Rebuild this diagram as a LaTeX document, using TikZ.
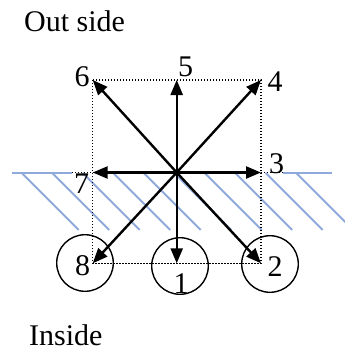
\documentclass[tikz,border=0pt]{standalone}
\usepackage{fontspec}
\setmainfont{Liberation Serif}
\usetikzlibrary{arrows.meta}
\definecolor{surfblue}{RGB}{143,170,218}

\begin{document}
\begin{tikzpicture}[
  x=1pt, y=-1pt,
  font=\fontsize{30}{36}\selectfont,
  >={Triangle[length=15pt,width=12pt]},
  num/.style={anchor=base, inner sep=0pt},
  ring/.style={draw, circle, line width=1.4pt, minimum size=56.6pt, inner sep=0pt},
  dir/.style={->, line width=2.4pt},
  boxline/.style={line width=1.3pt, dash pattern=on 1.3pt off 1.7pt},
  wall/.style={line width=2pt, color=surfblue},
]
% Coordinate system: pixels of the 345x354 sheet, y pointing down
\useasboundingbox (0,0) rectangle (345,354);

% --- Points of the frame ---
\coordinate (c)  at (176.7,172.5);
\coordinate (p1) at (176.7,263.3);
\coordinate (p2) at (261,263.3);
\coordinate (p3) at (261,172.5);
\coordinate (p4) at (261,80);
\coordinate (p5) at (176.7,80);
\coordinate (p6) at (92.7,80);
\coordinate (p7) at (92.7,172.5);
\coordinate (p8) at (92.7,263.3);

% --- Surface and hatching ---
\foreach \k in {0,...,9}
  \draw[wall] (21.7+30.5*\k,173) -- ++(57,57);
\draw[wall] (11.7,172.5) -- (72,172.5);
\draw[wall] (283,172.5) -- (331.7,172.5);

% --- Circles ---
\node[ring] (r8) at (85,263) {};
\node[ring] (r1) at (180,266) {};
\node[ring] (r2) at (270,264) {};

% --- Dotted frame ---
\draw[boxline] (p6) rectangle (p2);
\draw[boxline] (72,172.5) -- (283,172.5);

% --- Directions ---
\foreach \p in {p1,p2,p3,p4,p5,p6,p7,p8}
  \draw[dir] (c) -- (\p);

% --- Numbers ---
\node[num] (n5) at (185.5,76)   {5};
\node[num] (n6) at (82,86.7)    {6};
\node[num] (n4) at (275,91.7)   {4};
\node[num] (n3) at (276.5,173)  {3};
\node[num] (n7) at (81.7,193)   {7};
\node[num] (n8) at (82.5,275)   {8};
\node[num] (n1) at (181,293)    {1};
\node[num] (n2) at (275,276.7)  {2};

% --- Sides ---
\node[anchor=base west, inner sep=0pt] (out) at (24,31.7) {Out side};
\node[anchor=base west, inner sep=0pt] (in)  at (29,345)  {Inside};

\end{tikzpicture}
\end{document}
